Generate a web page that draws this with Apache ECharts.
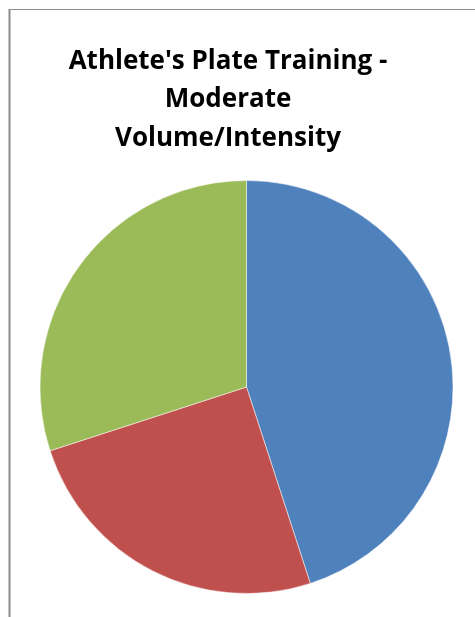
<!DOCTYPE html>
<html>
	<head>
		<meta charset="UTF-8">
		<title></title>
		<script src="https://cdn.jsdelivr.net/npm/echarts@6/dist/echarts.min.js"></script>
		<style>
			html, body { margin: 0; padding: 0; background: #fff; }
		</style>
	</head>
	<body>
		<div id="pie" style="width: 475px; height: 617px;"></div>
		<script type="text/javascript">
			// slice names and shares
			var categories = ['Plate A', 'Plate B', 'Plate C'];
			var values = [45, 25, 30];
			var colors = ['#4F81BD', '#C0504D', '#9BBB59'];
			var chartTitle = "Athlete's Plate Training -\nModerate\nVolume/Intensity";

			var myChart = echarts.init(document.getElementById('pie'));
			myChart.setOption({
				animation: false,
				title: {
					text: chartTitle,
					left: 223,
					top: 37,
					textAlign: 'center',
					textStyle: {
						fontFamily: 'Open Sans',
						fontWeight: 'bold',
						fontSize: 26,
						lineHeight: 38.5,
						color: '#000'
					}
				},
				graphic: [
					{ type: 'line', shape: { x1: 9.5, y1: 9.5, x2: 475, y2: 9.5 }, style: { stroke: '#8c8c8c', lineWidth: 1 } },
					{ type: 'line', shape: { x1: 9.5, y1: 9, x2: 9.5, y2: 617 }, style: { stroke: '#8c8c8c', lineWidth: 2 } }
				],
				series: [{
					type: 'pie',
					center: [246.5, 387],
					radius: 206.5,
					startAngle: 90,
					clockwise: true,
					label: { show: false },
					labelLine: { show: false },
					itemStyle: { borderColor: '#fff', borderWidth: 0.5 },
					data: categories.map(function(name, i) {
						return { name: name, value: values[i], itemStyle: { color: colors[i] } };
					})
				}]
			});
		</script>
	</body>
</html>
